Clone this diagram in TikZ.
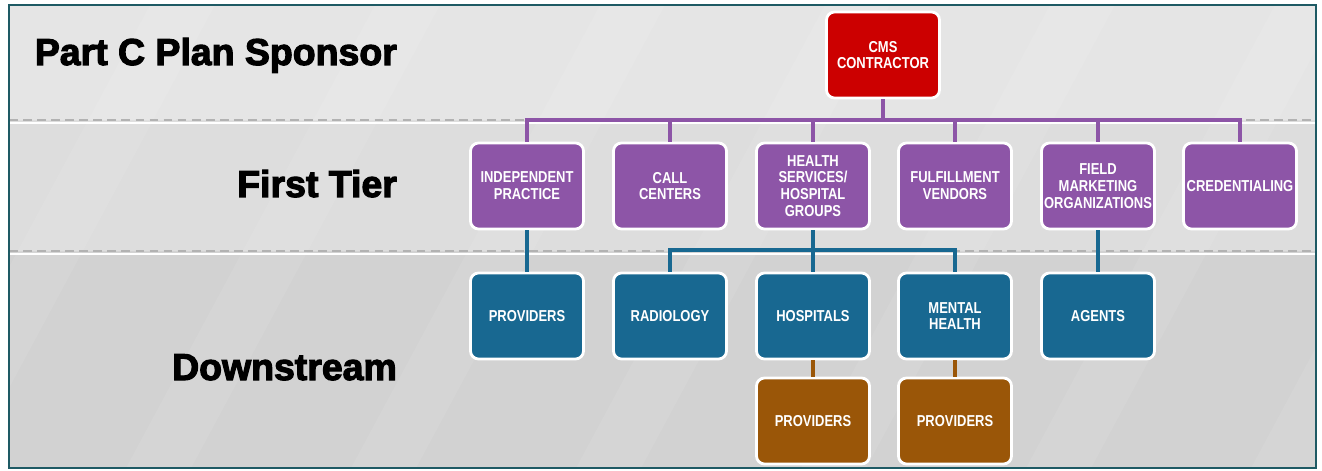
\documentclass[tikz,border=0pt]{standalone}
\usepackage{fontspec}
\setmainfont{Liberation Sans}
\newfontfamily\headfont[FakeBold=3]{Liberation Sans}
\newfontfamily\boxfont[FakeStretch=0.82]{Liberation Sans}
\usepackage{xcolor}
\usetikzlibrary{positioning,calc}

\definecolor{cmsred}{RGB}{204,0,0}
\definecolor{tierpurple}{RGB}{141,85,167}
\definecolor{downblue}{RGB}{24,104,145}
\definecolor{subbrown}{RGB}{154,86,8}
\definecolor{framecol}{RGB}{30,90,100}
\definecolor{bandtop}{RGB}{229,229,229}
\definecolor{bandmid}{RGB}{221,221,221}
\definecolor{bandlow}{RGB}{210,210,210}

\begin{document}
\begin{tikzpicture}[
    font=\boxfont\bfseries\fontsize{9}{9.6}\selectfont,
    box/.style={
        draw=white,
        line width=1.6pt,
        rounded corners=1.6mm,
        minimum width=2.26cm,
        minimum height=1.72cm,
        inner sep=1pt,
        align=center,
        text=white
    },
    topbox/.style={box, fill=cmsred},
    tierbox/.style={box, fill=tierpurple},
    downbox/.style={box, fill=downblue},
    subbox/.style={box, fill=subbrown},
    heading/.style={
        anchor=base east,
        font=\headfont\bfseries\fontsize{21.3}{24}\selectfont,
        text=black
    },
    pline/.style={draw=tierpurple, line width=2.4pt},
    bline/.style={draw=downblue, line width=2.4pt},
    oline/.style={draw=subbrown, line width=2.8pt},
    sep/.style={draw=gray!60, line width=1pt, dash pattern=on 5pt off 3pt}
]

\useasboundingbox (0,0) rectangle (26.44,-9.42);
\fill[white] (0,0) rectangle (26.44,-9.42);

% bands
\fill[bandtop] (0.18,-0.1) rectangle (26.32,-2.40);
\fill[bandmid] (0.18,-2.40) rectangle (26.32,-5.02);
\fill[bandlow] (0.18,-5.02) rectangle (26.32,-9.36);
\begin{scope}
\clip (0.18,-0.1) rectangle (26.32,-9.36);
\foreach \x in {3,7.5,...,34}
    \fill[white, opacity=0.08] (\x,-0.1) -- ++(1.3,0) -- ++(-5,-9.3) -- ++(-1.3,0) -- cycle;
\end{scope}
\draw[white, line width=0.8pt] (0.18,-2.46) -- (26.32,-2.46);
\draw[white, line width=0.8pt] (0.18,-5.08) -- (26.32,-5.08);
\draw[sep] (0.18,-2.40) -- (26.32,-2.40);
\draw[sep] (0.18,-5.02) -- (26.32,-5.02);
\draw[framecol, line width=1.5pt] (0.18,-0.1) rectangle (26.32,-9.36);

% row labels
\node[heading] (sponsor) at (8.06,-1.30) {Part C Plan Sponsor};
\node[heading] (first) at (8.06,-3.94) {First Tier};
\node[heading] (downstream) at (8.06,-7.60) {Downstream};

% sponsor
\node[topbox] (cms) at (17.66,-1.10) {CMS\\CONTRACTOR};

% first tier
\node[tierbox] (indep) at (10.54,-3.72) {INDEPENDENT\\PRACTICE};
\node[tierbox] (call) at (13.40,-3.72) {CALL\\CENTERS};
\node[tierbox] (health) at (16.26,-3.72) {HEALTH\\SERVICES/\\HOSPITAL\\GROUPS};
\node[tierbox] (fulfil) at (19.10,-3.72) {FULFILLMENT\\VENDORS};
\node[tierbox] (field) at (21.96,-3.72) {FIELD\\MARKETING\\ORGANIZATIONS};
\node[tierbox] (cred) at (24.80,-3.72) {CREDENTIALING};

% downstream
\node[downbox] (prov) at (10.54,-6.32) {PROVIDERS};
\node[downbox] (radio) at (13.40,-6.32) {RADIOLOGY};
\node[downbox] (hosp) at (16.26,-6.32) {HOSPITALS};
\node[downbox] (mental) at (19.10,-6.32) {MENTAL\\HEALTH};
\node[downbox] (agents) at (21.96,-6.32) {AGENTS};
\node[subbox] (hprov) at (16.26,-8.42) {PROVIDERS};
\node[subbox] (mprov) at (19.10,-8.42) {PROVIDERS};

\coordinate (pbus) at (0,-2.40);
\coordinate (bbus) at (0,-5.00);

\foreach \n in {indep,call,health,fulfil,field,cred}
    \draw[pline] (cms.south) |- (\n.north |- pbus) -- (\n.north);

\draw[bline] (indep) -- (prov);
\foreach \n in {radio,hosp,mental}
    \draw[bline] (health.south) |- (\n.north |- bbus) -- (\n.north);
\draw[bline] (field) -- (agents);

\draw[oline] (hosp) -- (hprov);
\draw[oline] (mental) -- (mprov);

\end{tikzpicture}
\end{document}
